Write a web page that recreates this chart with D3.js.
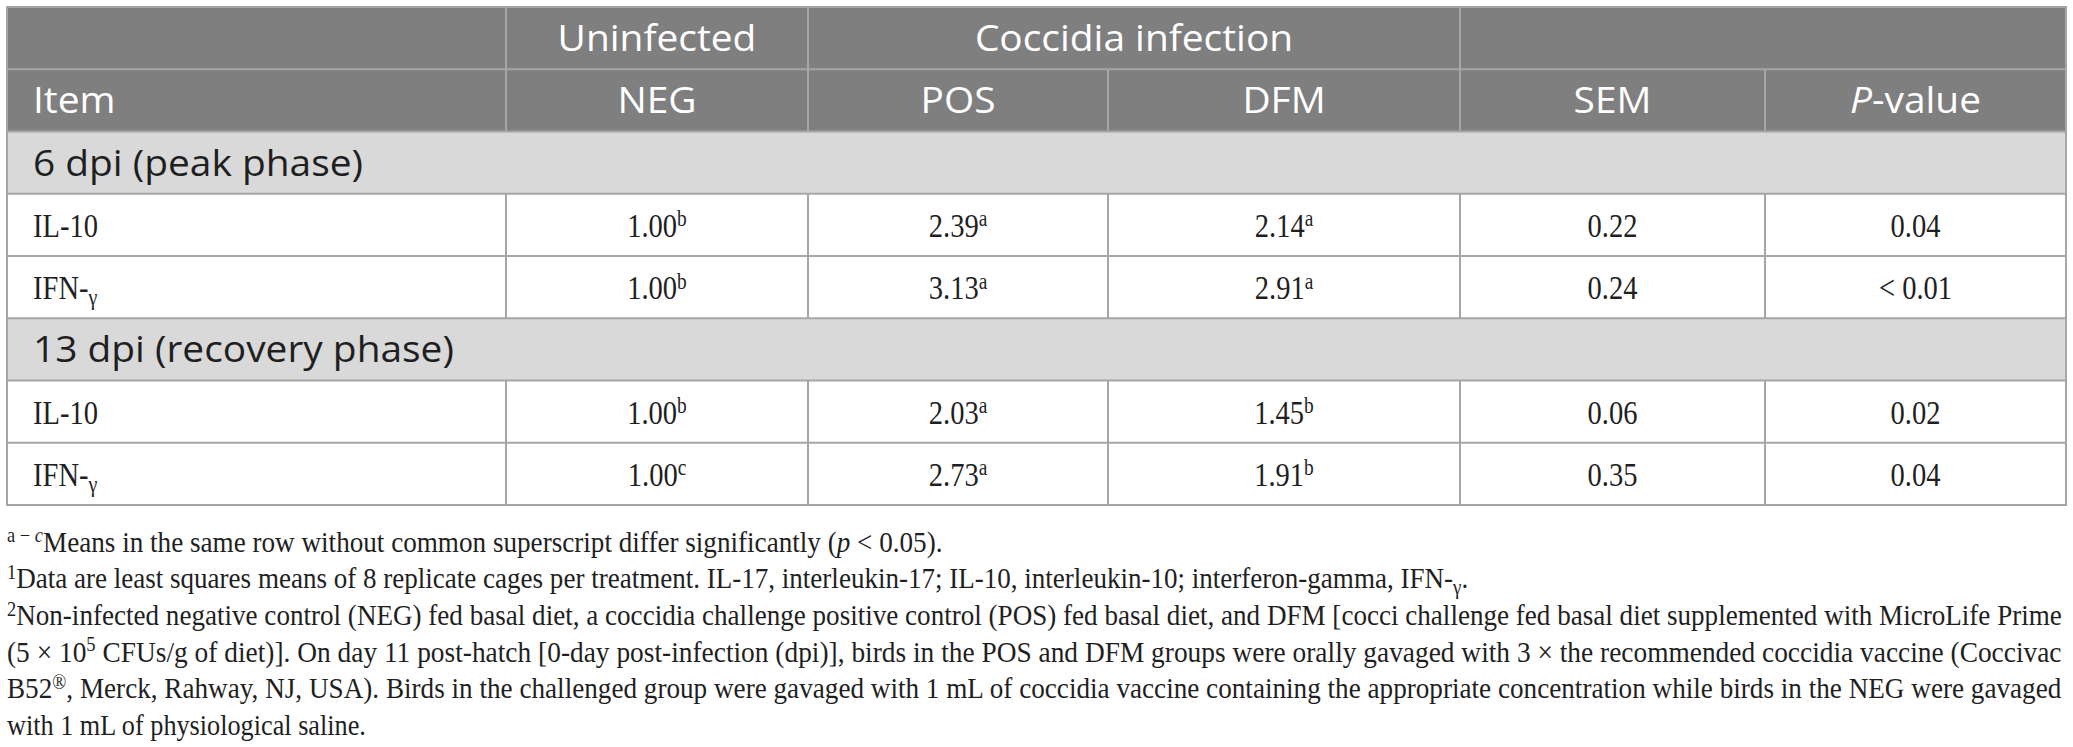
<!DOCTYPE html>
<html>
<head>
	<meta charset="UTF-8">
	<title>Cytokine expression table</title>
	<script src="https://d3js.org/d3.v7.min.js"></script>
	<style>
		body { margin: 0; background: #ffffff; }
		svg { display: block; }
	</style>
</head>
<body>
	<script>
		// table content
		const columns = ["Item", "NEG", "POS", "DFM", "SEM", "P-value"];
		const spanLabels = ["", "Uninfected", "Coccidia infection", ""];
		const spanCounts = [1, 1, 2, 2];
		const phases = ["6 dpi (peak phase)", "13 dpi (recovery phase)"];
		const items = ["IL-10", "IFN-γ", "IL-10", "IFN-γ"];
		const negMeans = [1.00, 1.00, 1.00, 1.00];
		const negLetters = ["b", "b", "b", "c"];
		const posMeans = [2.39, 3.13, 2.03, 2.73];
		const posLetters = ["a", "a", "a", "a"];
		const dfmMeans = [2.14, 2.91, 1.45, 1.91];
		const dfmLetters = ["a", "a", "b", "b"];
		const semValues = [0.22, 0.24, 0.06, 0.35];
		const pValues = ["0.04", "< 0.01", "0.02", "0.04"];

		// footnote lines, each a list of text pieces
		const footnoteLines = [
			[{ t: "a − ", sup: 1 }, { t: "c", sup: 1, it: 1 }, { t: "Means in the same row without common superscript differ significantly (" }, { t: "p", it: 1 }, { t: " < 0.05)." }],
			[{ t: "1", sup: 1 }, { t: "Data are least squares means of 8 replicate cages per treatment. IL-17, interleukin-17; IL-10, interleukin-10; interferon-gamma, IFN-" }, { t: "γ", sub: 1 }, { t: "." }],
			[{ t: "2", sup: 1 }, { t: "Non-infected negative control (NEG) fed basal diet, a coccidia challenge positive control (POS) fed basal diet, and DFM [cocci challenge fed basal diet supplemented with MicroLife Prime" }],
			[{ t: "(5 × 10" }, { t: "5", sup: 1 }, { t: " CFUs/g of diet)]. On day 11 post-hatch [0-day post-infection (dpi)], birds in the POS and DFM groups were orally gavaged with 3 × the recommended coccidia vaccine (Coccivac" }],
			[{ t: "B52" }, { t: "®", sup: 1 }, { t: ", Merck, Rahway, NJ, USA). Birds in the challenged group were gavaged with 1 mL of coccidia vaccine containing the appropriate concentration while birds in the NEG were gavaged" }],
			[{ t: "with 1 mL of physiological saline." }]
		];

		// layout
		var width = 2073;
		var height = 747;
		const colEdges = [7, 506, 808, 1108, 1460, 1765, 2066];
		const footnoteRight = [943, 1469, 2062, 2062, 2062, 366];
		const lineColor = "#a6a6a6";
		const sansFont = "'Open Sans', 'Noto Sans', sans-serif";
		const serifFont = "'Liberation Serif', 'DejaVu Serif', serif";

		const svg = d3.select("body").append("svg")
			.attr("width", width)
			.attr("height", height);

		const colX = d3.scaleOrdinal()
			.domain(columns.concat(["end"]))
			.range(colEdges);
		const rowY = d3.scaleBand()
			.domain(d3.range(8))
			.range([7, 505]);
		const footY = d3.scaleLinear()
			.domain([0, footnoteLines.length - 1])
			.range([541, 724]);

		const left = colX("Item"), right = colX("end");
		const colCenter = c => (colX(c) + colX(columns[columns.indexOf(c) + 1] || "end")) / 2;

		// rows: 0,1 header, 2 phase, 3-4 items, 5 phase, 6-7 items
		const phaseRows = [2, 5];
		const itemRows = [3, 4, 6, 7];

		// backgrounds
		svg.append("rect")
			.attr("x", left).attr("y", rowY(0))
			.attr("width", right - left).attr("height", rowY.bandwidth() * 2)
			.attr("fill", "#7f7f7f");
		svg.selectAll(".phase-bg")
			.data(phaseRows)
			.enter()
			.append("rect")
			.attr("class", "phase-bg")
			.attr("x", left).attr("y", d => rowY(d))
			.attr("width", right - left).attr("height", rowY.bandwidth())
			.attr("fill", "#d9d9d9");

		// horizontal rules
		svg.selectAll(".hline")
			.data(d3.range(9))
			.enter()
			.append("line")
			.attr("class", "hline")
			.attr("x1", left).attr("x2", right)
			.attr("y1", d => d < 8 ? rowY(d) : rowY(7) + rowY.bandwidth())
			.attr("y2", d => d < 8 ? rowY(d) : rowY(7) + rowY.bandwidth())
			.attr("stroke", lineColor)
			.attr("stroke-width", 2);

		// vertical rules for the spanning header row
		var spanStarts = [];
		var acc = 0;
		spanCounts.forEach(n => { spanStarts.push(acc); acc += n; });
		svg.selectAll(".vspan")
			.data(spanStarts.slice(1))
			.enter()
			.append("line")
			.attr("class", "vspan")
			.attr("x1", d => colX(columns[d])).attr("x2", d => colX(columns[d]))
			.attr("y1", rowY(0)).attr("y2", rowY(1))
			.attr("stroke", lineColor)
			.attr("stroke-width", 2);

		// vertical rules for column header and item rows
		[1].concat(itemRows).forEach(r => {
			svg.selectAll(".vcol-" + r)
				.data(columns.slice(1))
				.enter()
				.append("line")
				.attr("class", "vcol-" + r)
				.attr("x1", d => colX(d)).attr("x2", d => colX(d))
				.attr("y1", rowY(r)).attr("y2", rowY(r) + rowY.bandwidth())
				.attr("stroke", lineColor)
				.attr("stroke-width", 2);
		});

		// outer frame
		svg.append("rect")
			.attr("x", left).attr("y", rowY(0))
			.attr("width", right - left).attr("height", rowY.bandwidth() * 8)
			.attr("fill", "none")
			.attr("stroke", lineColor)
			.attr("stroke-width", 2);

		// writes a text made of pieces (superscript, subscript, italic)
		function addPieces(sel, pieces) {
			pieces.forEach(p => {
				const ts = sel.append("tspan").text(p.t);
				if (p.sup) ts.attr("font-size", "68%").attr("baseline-shift", "48%");
				if (p.sub) ts.attr("font-size", "70%").attr("baseline-shift", "-24%");
				if (p.it) ts.attr("font-style", "italic");
			});
		}

		function cellText(x, y, anchor, pieces, font, size, color, sx) {
			const t = svg.append("text")
				.attr("transform", "translate(" + x + "," + y + ") scale(" + sx + ",1)")
				.attr("text-anchor", anchor)
				.attr("dy", "0.36em")
				.attr("font-family", font)
				.attr("font-size", size)
				.attr("fill", color);
			addPieces(t, pieces);
			return t;
		}

		const midY = r => rowY(r) + rowY.bandwidth() / 2;
		const headSize = 36, headSx = 1.08;
		const bodySize = 34, bodySx = 0.84;

		// spanning header labels
		spanLabels.forEach((lab, i) => {
			if (!lab) return;
			const a = colX(columns[spanStarts[i]]);
			const bIdx = spanStarts[i] + spanCounts[i];
			const b = colX(bIdx < columns.length ? columns[bIdx] : "end");
			cellText((a + b) / 2, midY(0), "middle", [{ t: lab }], sansFont, headSize, "#ffffff", headSx);
		});

		// column headers
		columns.forEach((c, i) => {
			if (i === 0) {
				cellText(left + 26, midY(1), "start", [{ t: c }], sansFont, headSize, "#ffffff", headSx);
			} else if (c === "P-value") {
				cellText(colCenter(c), midY(1), "middle", [{ t: "P", it: 1 }, { t: "-value" }], sansFont, headSize, "#ffffff", headSx);
			} else {
				cellText(colCenter(c), midY(1), "middle", [{ t: c }], sansFont, headSize, "#ffffff", headSx);
			}
		});

		// phase rows
		phases.forEach((p, i) => {
			cellText(left + 26, midY(phaseRows[i]), "start", [{ t: p }], sansFont, headSize, "#1f1f1f", headSx);
		});

		// item rows
		const fmt = d3.format(".2f");
		itemRows.forEach((r, i) => {
			const y = midY(r);
			const name = items[i].split("-");
			cellText(left + 26, y, "start", [{ t: name[0] + "-" }, name[1] === "γ" ? { t: "γ", sub: 1 } : { t: name[1] }], serifFont, bodySize, "#1f1f1f", bodySx);
			cellText(colCenter("NEG"), y, "middle", [{ t: fmt(negMeans[i]) }, { t: negLetters[i], sup: 1 }], serifFont, bodySize, "#1f1f1f", bodySx);
			cellText(colCenter("POS"), y, "middle", [{ t: fmt(posMeans[i]) }, { t: posLetters[i], sup: 1 }], serifFont, bodySize, "#1f1f1f", bodySx);
			cellText(colCenter("DFM"), y, "middle", [{ t: fmt(dfmMeans[i]) }, { t: dfmLetters[i], sup: 1 }], serifFont, bodySize, "#1f1f1f", bodySx);
			cellText(colCenter("SEM"), y, "middle", [{ t: fmt(semValues[i]) }], serifFont, bodySize, "#1f1f1f", bodySx);
			cellText(colCenter("P-value"), y, "middle", [{ t: pValues[i] }], serifFont, bodySize, "#1f1f1f", bodySx);
		});

		// footnotes, squeezed to the measured line widths
		footnoteLines.forEach((line, i) => {
			const t = cellText(left, footY(i), "start", line, serifFont, 30, "#1f1f1f", 1);
			const natural = t.node().getComputedTextLength();
			const sx = (footnoteRight[i] - left) / natural;
			t.attr("transform", "translate(" + left + "," + footY(i) + ") scale(" + sx + ",1)");
		});
	</script>
</body>
</html>
